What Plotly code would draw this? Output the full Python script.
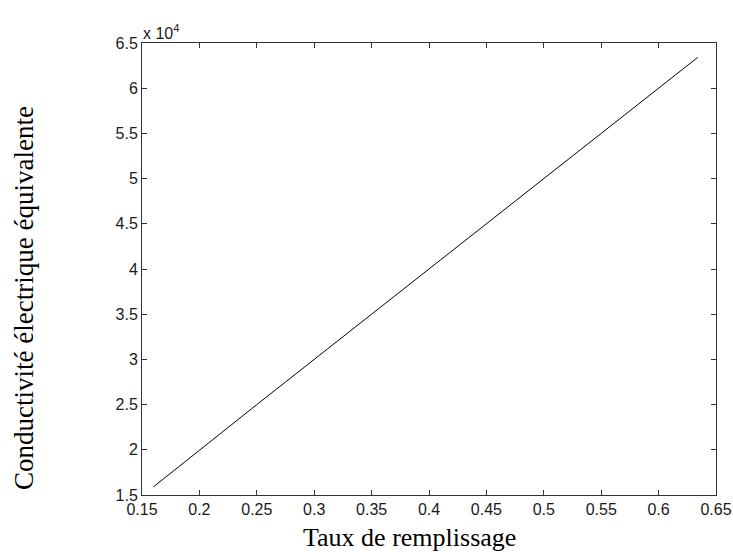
import plotly.graph_objects as go

# Data
taux = [0.16, 0.25, 0.35, 0.45, 0.55, 0.634]
conductivite = [15900, 25000, 35000, 45000, 55000, 63400]

x_ticks = [0.15, 0.2, 0.25, 0.3, 0.35, 0.4, 0.45, 0.5, 0.55, 0.6, 0.65]
x_ticktext = ["0.15", "0.2", "0.25", "0.3", "0.35", "0.4", "0.45", "0.5", "0.55", "0.6", "0.65"]
y_ticks = [15000, 20000, 25000, 30000, 35000, 40000, 45000, 50000, 55000, 60000, 65000]
y_ticktext = ["1.5", "2", "2.5", "3", "3.5", "4", "4.5", "5", "5.5", "6", "6.5"]

fig = go.Figure()
fig.add_trace(go.Scatter(x=taux, y=conductivite, mode="lines",
                         line=dict(color="black", width=1), showlegend=False))

axis_common = dict(showline=True, linecolor="#333333", linewidth=1, mirror="ticks",
                   ticks="inside", ticklen=5, tickcolor="#333333", showgrid=False,
                   zeroline=False, automargin=False,
                   tickfont=dict(family="Liberation Sans, Arial", size=16, color="#1a1a1a"))

fig.update_xaxes(range=[0.15, 0.65], tickvals=x_ticks, ticktext=x_ticktext, **axis_common)
fig.update_yaxes(range=[15000, 65000], tickvals=y_ticks, ticktext=y_ticktext, **axis_common)

fig.add_annotation(text="x 10<sup>4</sup>", xref="paper", yref="paper", x=0, y=1,
                   xanchor="left", yanchor="bottom", showarrow=False, yshift=-1, xshift=-1,
                   font=dict(family="Liberation Sans, Arial", size=16, color="#1a1a1a"))
fig.add_annotation(text="Taux de remplissage", xref="paper", yref="paper", x=0.466, y=0,
                   xanchor="center", yanchor="middle", showarrow=False, yshift=-42,
                   font=dict(family="Liberation Serif, Times New Roman", size=26, color="black"))
fig.add_annotation(text="Conductivité électrique équivalente", xref="paper", yref="paper",
                   x=0, y=0.436, xanchor="center", yanchor="middle", showarrow=False,
                   textangle=-90, xshift=-118,
                   font=dict(family="Liberation Serif, Times New Roman", size=27, color="black"))

fig.update_layout(width=733, height=552, margin=dict(l=142, r=17, t=43, b=57),
                  plot_bgcolor="white", paper_bgcolor="white")

fig.write_html("out.html", config={"displayModeBar": False},
               post_script="document.body.style.margin='0';document.body.style.overflow='hidden';")
